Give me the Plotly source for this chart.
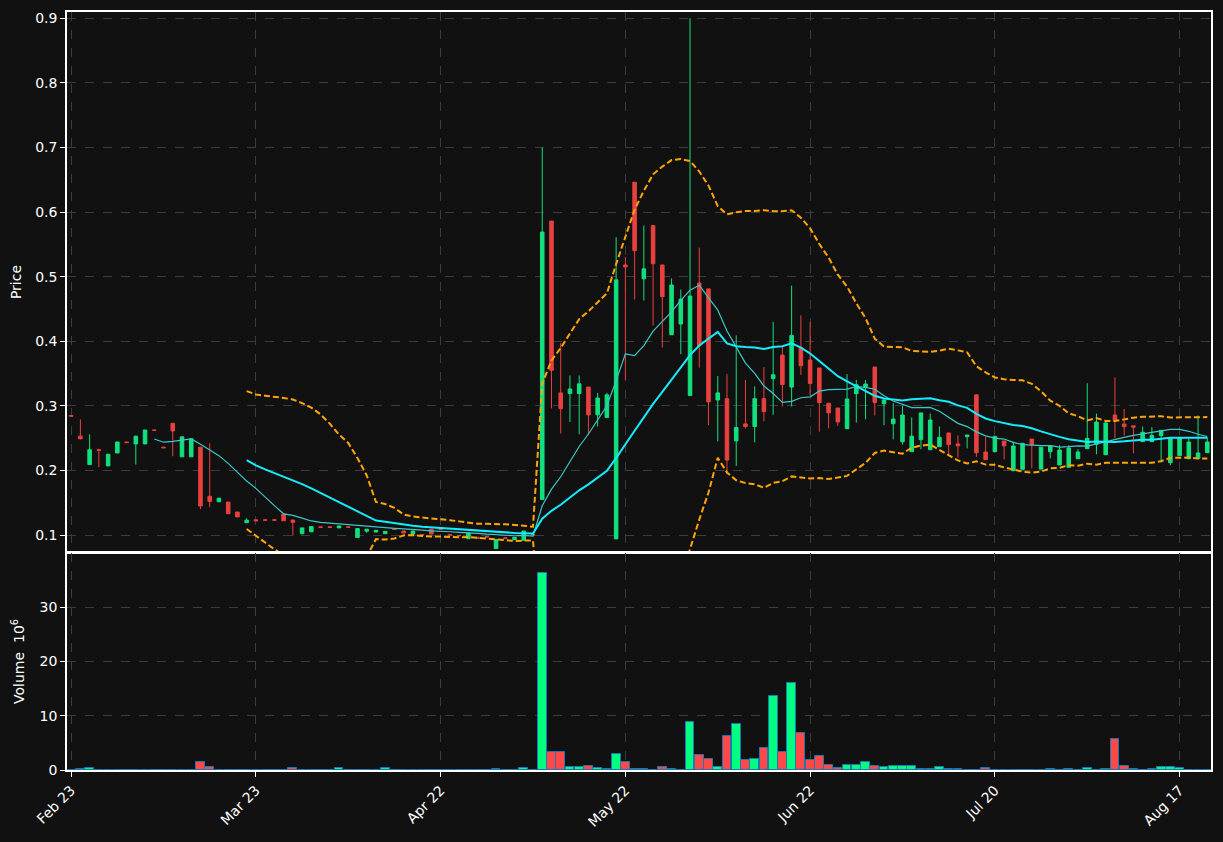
import plotly.graph_objects as go
import pandas as pd

# ---------------- data ----------------
opens = [0.285, 0.253, 0.209, 0.232, 0.207, 0.227, 0.244, 0.241, 0.241, 0.2625,
         0.236, 0.273, 0.221, 0.221, 0.236, 0.160, 0.1515, 0.151, 0.1356, 0.119,
         0.1235, 0.1235, 0.1235, 0.1325, 0.1232, 0.102, 0.105, 0.1125, 0.1125, 0.111,
         0.1125, 0.096, 0.106, 0.1046, 0.102, 0.109, 0.1062, 0.1015, 0.1005, 0.109,
         0.1092, 0.1005, 0.0995, 0.0943, 0.0964, 0.0975, 0.079, 0.0955, 0.0927, 0.0918,
         0.1005, 0.155, 0.586, 0.320, 0.319, 0.319, 0.329, 0.286, 0.282, 0.094,
         0.518, 0.646, 0.4966, 0.579, 0.518, 0.410, 0.4266, 0.316, 0.490, 0.481,
         0.309, 0.311, 0.2457, 0.272, 0.268, 0.311, 0.342, 0.3785, 0.329, 0.390,
         0.371, 0.3585, 0.304, 0.2966, 0.2646, 0.3187, 0.3286, 0.360, 0.3033, 0.2723,
         0.2444, 0.229, 0.2475, 0.232, 0.2367, 0.258, 0.241, 0.2522, 0.317, 0.2285,
         0.229, 0.2455, 0.1995, 0.2017, 0.2486, 0.202, 0.229, 0.2084, 0.2048, 0.218,
         0.2336, 0.2404, 0.2243, 0.2858, 0.2718, 0.269, 0.2445, 0.2445, 0.2538, 0.212,
         0.2228, 0.218, 0.2187, 0.2274]
highs = [0.285, 0.279, 0.256, 0.232, 0.225, 0.244, 0.244, 0.253, 0.2625, 0.2625,
         0.236, 0.273, 0.252, 0.249, 0.236, 0.242, 0.157, 0.151, 0.1356, 0.126,
         0.1235, 0.1235, 0.1235, 0.1325, 0.1232, 0.111, 0.113, 0.1125, 0.1125, 0.114,
         0.1125, 0.110, 0.109, 0.1073, 0.1057, 0.109, 0.1062, 0.1062, 0.1005, 0.109,
         0.1092, 0.1005, 0.0995, 0.103, 0.0964, 0.0975, 0.093, 0.0955, 0.0972, 0.1062,
         0.1005, 0.700, 0.586, 0.397, 0.347, 0.347, 0.329, 0.320, 0.320, 0.561,
         0.530, 0.646, 0.579, 0.579, 0.518, 0.497, 0.480, 0.900, 0.545, 0.481,
         0.346, 0.349, 0.409, 0.340, 0.330, 0.360, 0.430, 0.392, 0.486, 0.440,
         0.430, 0.3585, 0.304, 0.2966, 0.349, 0.340, 0.340, 0.360, 0.309, 0.304,
         0.300, 0.282, 0.289, 0.288, 0.268, 0.258, 0.254, 0.2548, 0.317, 0.252,
         0.2528, 0.2455, 0.2445, 0.242, 0.2486, 0.236, 0.2378, 0.239, 0.239, 0.233,
         0.335, 0.288, 0.277, 0.344, 0.295, 0.269, 0.268, 0.267, 0.262, 0.2496,
         0.2507, 0.2496, 0.285, 0.2507]
lows = [0.284, 0.248, 0.209, 0.205, 0.207, 0.227, 0.243, 0.209, 0.241, 0.262,
        0.235, 0.222, 0.221, 0.221, 0.140, 0.143, 0.1515, 0.133, 0.128, 0.119,
        0.122, 0.123, 0.123, 0.122, 0.099, 0.102, 0.105, 0.112, 0.112, 0.111,
        0.112, 0.096, 0.1035, 0.1046, 0.102, 0.1085, 0.1031, 0.1015, 0.100, 0.1015,
        0.1088, 0.100, 0.099, 0.0943, 0.0949, 0.097, 0.079, 0.095, 0.0927, 0.0918,
        0.100, 0.155, 0.296, 0.257, 0.275, 0.256, 0.255, 0.268, 0.282, 0.094,
        0.340, 0.4645, 0.463, 0.424, 0.390, 0.410, 0.380, 0.316, 0.359, 0.270,
        0.245, 0.194, 0.207, 0.265, 0.2435, 0.276, 0.286, 0.299, 0.299, 0.348,
        0.316, 0.260, 0.265, 0.269, 0.2646, 0.274, 0.279, 0.285, 0.270, 0.248,
        0.240, 0.229, 0.2327, 0.232, 0.2367, 0.225, 0.220, 0.234, 0.221, 0.2166,
        0.229, 0.217, 0.1995, 0.2017, 0.203, 0.202, 0.2187, 0.2084, 0.2048, 0.218,
        0.2336, 0.225, 0.2243, 0.2496, 0.254, 0.2265, 0.2445, 0.2445, 0.212, 0.208,
        0.2228, 0.218, 0.2187, 0.2274]
closes = [0.284, 0.249, 0.232, 0.231, 0.225, 0.244, 0.243, 0.253, 0.2625, 0.262,
          0.235, 0.261, 0.252, 0.249, 0.145, 0.152, 0.157, 0.133, 0.128, 0.123,
          0.122, 0.123, 0.123, 0.122, 0.1196, 0.111, 0.113, 0.112, 0.112, 0.114,
          0.112, 0.110, 0.109, 0.1073, 0.1057, 0.1085, 0.1031, 0.1062, 0.100, 0.1015,
          0.1088, 0.100, 0.099, 0.103, 0.0949, 0.097, 0.093, 0.095, 0.0964, 0.1062,
          0.100, 0.569, 0.355, 0.2955, 0.326, 0.334, 0.286, 0.312, 0.317, 0.495,
          0.515, 0.540, 0.512, 0.520, 0.469, 0.487, 0.465, 0.470, 0.393, 0.306,
          0.320, 0.216, 0.2664, 0.268, 0.311, 0.291, 0.348, 0.333, 0.409, 0.362,
          0.3345, 0.305, 0.289, 0.275, 0.3105, 0.3327, 0.3337, 0.305, 0.309, 0.2796,
          0.2858, 0.253, 0.289, 0.278, 0.2512, 0.240, 0.238, 0.2548, 0.2274, 0.2166,
          0.2528, 0.238, 0.2378, 0.242, 0.240, 0.236, 0.2378, 0.2316, 0.2347, 0.2285,
          0.2496, 0.2749, 0.2734, 0.278, 0.2676, 0.267, 0.259, 0.2543, 0.262, 0.2496,
          0.2507, 0.244, 0.2269, 0.244]
volumes_m = [0, 0.1, 0.3, 0, 0, 0, 0, 0, 0, 0,
             0, 0, 0, 0, 1.4, 0.6, 0, 0, 0, 0,
             0, 0, 0, 0, 0.3, 0, 0, 0, 0, 0.3,
             0.05, 0, 0.05, 0, 0.3, 0, 0, 0, 0, 0,
             0, 0, 0, 0, 0, 0, 0.1, 0, 0, 0.3,
             0, 36.2, 3.4, 3.4, 0.5, 0.5, 0.7, 0.3, 0.1, 3.0,
             1.5, 0.25, 0.25, 0.05, 0.5, 0.1, 0.05, 8.8, 2.7, 2.0,
             0.6, 6.2, 8.4, 1.8, 2.0, 4.0, 13.6, 3.4, 16.0, 6.9,
             1.8, 2.5, 0.9, 0.3, 1.0, 1.0, 1.4, 0.7, 0.5, 0.8,
             0.7, 0.7, 0.1, 0.1, 0.6, 0.1, 0.1, 0, 0, 0.3,
             0, 0, 0, 0, 0, 0, 0.1, 0, 0.1, 0,
             0.3, 0, 0.1, 5.7, 0.8, 0.1, 0, 0.1, 0.6, 0.6,
             0.3, 0, 0, 0]
tick_positions = [0, 20, 40, 60, 80, 100, 120]
tick_labels = ["Feb 23", "Mar 23", "Apr 22", "May 22", "Jun 22", "Jul 20", "Aug 17"]

# ---------------- derived series ----------------
idx = list(range(len(closes)))
cl = pd.Series(closes)
ma10 = cl.rolling(10).mean()
ma20 = cl.rolling(20).mean()
sd20 = cl.rolling(20).std()
bb_up = ma20 + 2 * sd20
bb_lo = ma20 - 2 * sd20

UP = "#12e07e"
DN = "#e8413f"
VUP = "#00ff80"
VDN = "#ff4848"
vol_colors = [VUP if c >= o else VDN for o, c in zip(opens, closes)]

BG = "#111111"
GRID = "#3c3c3c"
FONT = "DejaVu Sans"

fig = go.Figure()
fig.add_trace(go.Candlestick(
    x=idx, open=opens, high=highs, low=lows, close=closes,
    xaxis="x", yaxis="y", whiskerwidth=0, showlegend=False,
    increasing=dict(line=dict(color=UP, width=1), fillcolor=UP),
    decreasing=dict(line=dict(color=DN, width=1), fillcolor=DN),
))
fig.add_trace(go.Scatter(x=idx, y=ma10, mode="lines", xaxis="x", yaxis="y",
                         line=dict(color="#3cc8c8", width=1.2), showlegend=False))
fig.add_trace(go.Scatter(x=idx, y=ma20, mode="lines", xaxis="x", yaxis="y",
                         line=dict(color="#14ecff", width=2), showlegend=False))
fig.add_trace(go.Scatter(x=idx, y=bb_up, mode="lines", xaxis="x", yaxis="y",
                         line=dict(color="#ffa500", width=2, dash="6px,3px"), showlegend=False))
fig.add_trace(go.Scatter(x=idx, y=bb_lo, mode="lines", xaxis="x", yaxis="y",
                         line=dict(color="#ffa500", width=2, dash="6px,3px"), showlegend=False))
fig.add_trace(go.Bar(x=idx, y=volumes_m, xaxis="x2", yaxis="y2", width=0.95,
                     marker=dict(color=vol_colors, line=dict(color="#1f77b4", width=1)),
                     showlegend=False))

axis_common = dict(showline=True, linecolor="white", linewidth=1.5, mirror=True,
                   ticks="outside", tickcolor="white", ticklen=5, tickwidth=1,
                   showgrid=True, gridcolor=GRID, griddash="dash", gridwidth=1,
                   zeroline=False, tickfont=dict(color="white", size=14, family=FONT))

fig.update_layout(
    width=1223, height=842,
    margin=dict(l=67, r=10, t=12, b=72),
    paper_bgcolor=BG, plot_bgcolor=BG,
    font=dict(family=FONT, color="white", size=14),
    boxgap=0.45, bargap=0, hovermode=False,
    xaxis=dict(domain=[0, 1], anchor="y", range=[-0.45, 123.4],
               tickmode="array", tickvals=tick_positions, ticktext=tick_labels,
               showticklabels=False, rangeslider=dict(visible=False),
               **axis_common),
    yaxis=dict(domain=[0.2876, 1], anchor="x", range=[0.0737, 0.9096],
               tickmode="array", tickvals=[0.1, 0.2, 0.3, 0.4, 0.5, 0.6, 0.7, 0.8, 0.9],
               ticktext=["0.1", "0.2", "0.3", "0.4", "0.5", "0.6", "0.7", "0.8", "0.9"],
               title=dict(text="Price", font=dict(size=14, color="white"), standoff=10),
               **axis_common),
    xaxis2=dict(domain=[0, 1], anchor="y2", range=[-0.45, 123.4], matches="x",
                tickmode="array", tickvals=tick_positions, ticktext=tick_labels,
                tickangle=-45, **axis_common),
    yaxis2=dict(domain=[0, 0.2863], anchor="x2", range=[0, 39.96],
                tickmode="array", tickvals=[0, 10, 20, 30], ticktext=["0", "10", "20", "30"],
                title=dict(text="Volume  10<sup>6</sup>", font=dict(size=14, color="white"), standoff=12),
                **axis_common),
)

fig.write_html("out.html", config={"displayModeBar": False},
               post_script="document.body.style.margin='0';document.body.style.background='#111111';")
